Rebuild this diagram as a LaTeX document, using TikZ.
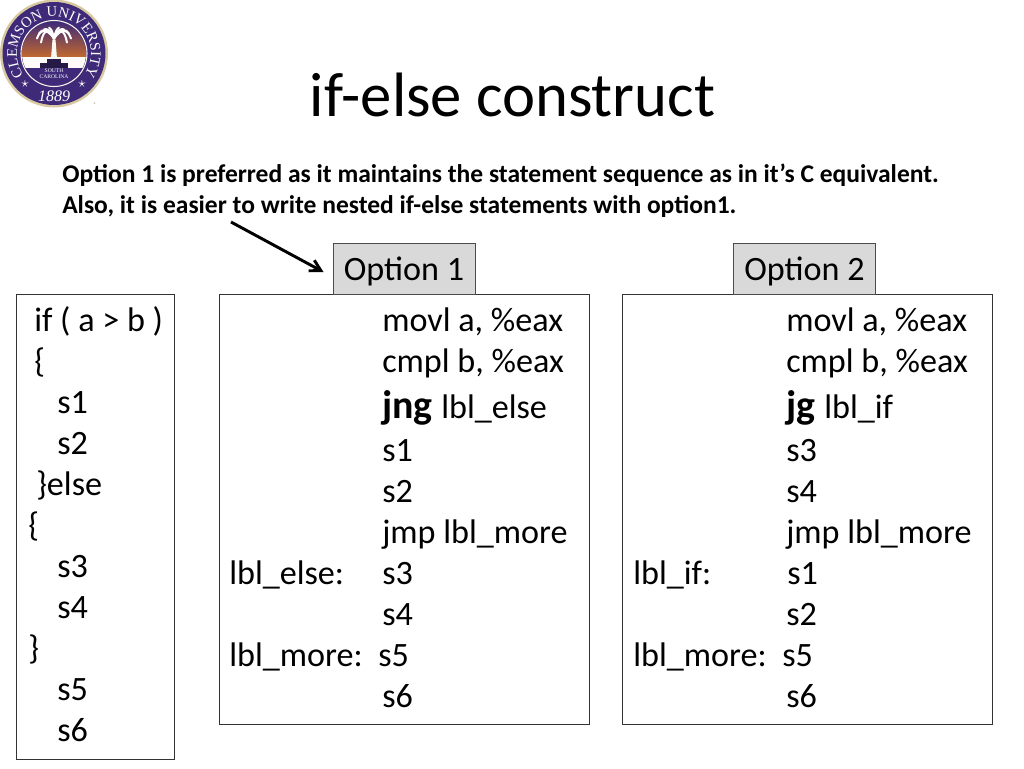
\documentclass[tikz,border=0pt]{standalone}
\usepackage{fontspec}
\setmainfont{Carlito}
\newfontfamily\sealfont{Liberation Serif}
\usetikzlibrary{arrows.meta,decorations.text}
\definecolor{sealpurple}{HTML}{3E2A78}
\definecolor{sealorange}{HTML}{C0682F}
\definecolor{sealgold}{HTML}{D8C9A0}
\tikzset{
    codetext/.style = {anchor = base west, inner sep = 0, xshift = -0.75pt, font = \fontsize{25.6}{30}\selectfont},
    notetext/.style = {anchor = base west, inner sep = 0, font = \fontsize{19.15}{23}\selectfont\bfseries},
    optionbox/.style = {draw = black!70, fill = black!15, line width = 0.75pt, minimum width = 106.5pt, minimum height = 38.25pt, inner sep = 0, text height = 23pt, text depth = 5.2pt, font = \fontsize{25.6}{30}\selectfont},
    codebox/.style = {draw = black!80, line width = 0.75pt, anchor = north west, inner sep = 0, xshift = -0.75pt},
    sealstar/.style = {white, inner sep = 0, font = \fontsize{11}{11}\selectfont},
    sealfrond/.style = {white, line width = 1.5pt, line cap = round}
}
\begin{document}
\begin{tikzpicture}[x = 0.75pt, y = -0.75pt]
        \useasboundingbox [fill = white] (0,0) rectangle (1024,768);
        % title and note
        \node [anchor = base, inner sep = 0, font = \fontsize{47}{50}\selectfont] (title) at (512.5,116) {if-else construct};
        \node [notetext] (note1) at (62,182) {Option 1 is preferred as it maintains the statement sequence as in it’s C equivalent.};
        \node [notetext] (note2) at (62,213) {Also, it is easier to write nested if-else statements with option1.};
        % boxes
        \node [codebox, minimum width = 118.5pt, minimum height = 348.75pt] (srcbox) at (17,294) {};
        \node [codebox, minimum width = 277.5pt, minimum height = 322.5pt] (leftbox) at (220,294) {};
        \node [codebox, minimum width = 277.5pt, minimum height = 322.5pt] (rightbox) at (623,294) {};
        \node [optionbox] (opt1) at (404,268.5) {Option 1};
        \node [optionbox] (opt2) at (804.5,268.5) {Option 2};
        \coordinate (notefoot) at (231,222);
        \draw [-{Straight Barb[length = 8pt, width = 9pt]}, line width = 2.2pt] (notefoot) -- ([shift = {(-9,3.5)}]opt1.west);
        % source column
        \foreach \x/\y/\txt [count = \i] in {35/331/{if ( a > b )}, 35/372/\{, 58/413/s1, 58/454/s2, 37/495/\}else, 29/536/\{, 58/577/s3, 58/618/s4, 29/659/\}, 58/700/s5, 58/741/s6}
            \node [codetext] (src\i) at (\x,\y) {\txt};
        % option 1
        \foreach \y/\txt [count = \i] in {331/{movl a, \%eax}, 372/{cmpl b, \%eax}, 461/s1, 502/s2, 543/{jmp lbl\_more}, 584/s3, 625/s4, 707/s6}
            \node [codetext] (optA\i) at (383,\y) {\txt};
        \node [codetext] (jng) at (383,418) {\fontsize{29.9}{34}\selectfont\bfseries jng};
        \node [codetext] (jngto) at (442,418) {lbl\_else};
        \node [codetext] (lblelse) at (230,584) {lbl\_else:};
        \node [codetext] (lblmoreA) at (230,666) {lbl\_more:};
        \node [codetext] (sfiveA) at (379,666) {s5};
        % option 2
        \foreach \y/\txt [count = \i] in {331/{movl a, \%eax}, 372/{cmpl b, \%eax}, 461/s3, 502/s4, 543/{jmp lbl\_more}, 625/s2, 707/s6}
            \node [codetext] (optB\i) at (787,\y) {\txt};
        \node [codetext] (jg) at (787,418) {\fontsize{29.9}{34}\selectfont\bfseries jg};
        \node [codetext] (jgto) at (825,418) {lbl\_if};
        \node [codetext] (lblif) at (634,584) {lbl\_if:};
        \node [codetext] (sone) at (788,584) {s1};
        \node [codetext] (lblmoreB) at (634,666) {lbl\_more:};
        \node [codetext] (sfiveB) at (783,666) {s5};
        % seal
        \begin{scope}[shift = {(54,53.5)}]
            \fill [sealgold] (0,0) circle [radius = 54];
            \fill [sealpurple] (0,0) circle [radius = 51.5];
            \begin{scope}
                \clip (0,0) circle [radius = 32];
                \shade [top color = sealpurple, bottom color = sealorange] (-32,-32) rectangle (32,3);
                \fill [white!92!sealgold] (-32,3) rectangle (32,14);
                \fill [sealpurple] (-32,14) rectangle (32,32);
            \end{scope}
            \draw [white!80!sealgold, line width = 0.8pt] (0,0) circle [radius = 33];
            \fill [white!85!sealgold] (-1.5,-14) -- (1.5,-14) -- (3,5) -- (-3,5) -- cycle;
            \fill [sealpurple!60!black] (-7,5) rectangle (7,9);
            \fill [sealpurple!60!black] (-14,9) rectangle (14,14);
            \foreach \dx/\dy in {5/-26, 10/-24, 15/-20, 17/-15, 13/-11}
            {
                \draw [sealfrond] (0,-15) .. controls (\dx*0.4,-25) and (\dx*0.8,-25) .. (\dx,\dy);
                \draw [sealfrond] (0,-15) .. controls (-\dx*0.4,-25) and (-\dx*0.8,-25) .. (-\dx,\dy);
            }
            \node [white, inner sep = 0, font = \sealfont\fontsize{4.2}{4.6}\selectfont, align = center] (sealsc) at (0,20) {SOUTH\\CAROLINA};
            \node [white, inner sep = 0, font = \sealfont\itshape\fontsize{12}{12}\selectfont] (sealyear) at (0,43) {1889};
            \node [sealstar] (sealstarA) at (-29,31) {$\star$};
            \node [sealstar] (sealstarB) at (28,31) {$\star$};
            \path [decorate, decoration = {text along path, text align = center, text = {|\sealfont\fontsize{11}{11}\selectfont\color{white}|CLEMSON UNIVERSITY}}]
                (150:37) arc [start angle = 150, end angle = 390, radius = 37];
        \end{scope}
        \node [inner sep = 0, text = black!50, font = \fontsize{4}{4}\selectfont] (sealmark) at (95,105) {®};
    \end{tikzpicture}
\end{document}
